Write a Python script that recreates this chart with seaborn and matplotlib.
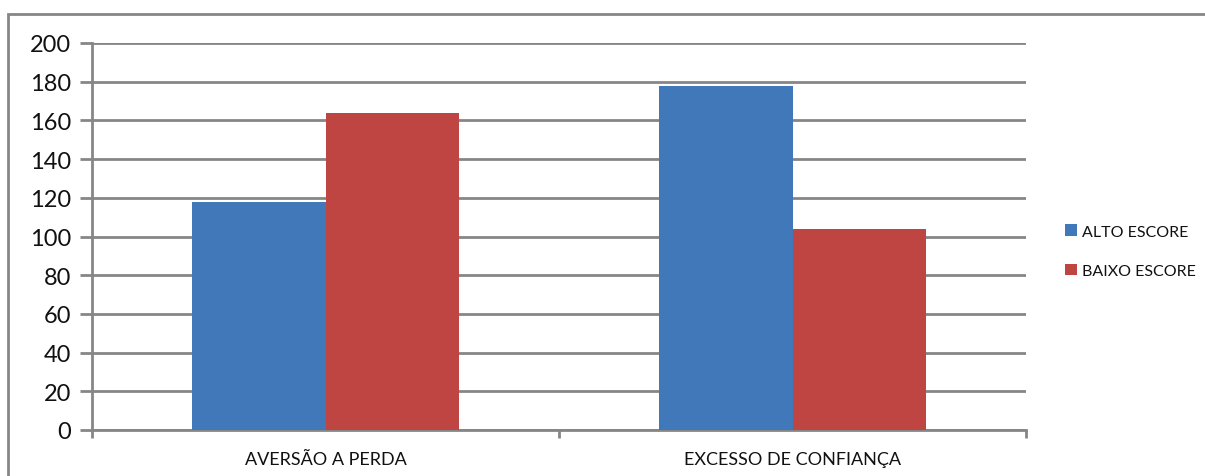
import matplotlib
matplotlib.use("Agg")
import matplotlib.pyplot as plt
from matplotlib.patches import Rectangle
import seaborn as sns
import pandas as pd

categories = ["AVERSÃO A PERDA", "EXCESSO DE CONFIANÇA"]
series_names = ["ALTO ESCORE", "BAIXO ESCORE"]
alto_escore = [118, 178]
baixo_escore = [164, 104]
y_ticks = [0, 20, 40, 60, 80, 100, 120, 140, 160, 180, 200]

colors = ["#4178BA", "#BF4542"]
grid_color = "#868686"

df = pd.DataFrame({
    "categoria": categories * 2,
    "serie": [series_names[0]] * 2 + [series_names[1]] * 2,
    "valor": alto_escore + baixo_escore,
})

sns.set_theme(style="white")
plt.rcParams["font.family"] = ["Lato", "DejaVu Sans"]

W, H = 1205, 477
fig = plt.figure(figsize=(W / 100, H / 100), dpi=100)
ax = fig.add_axes([92 / W, 1 - 431 / H, (1026 - 92) / W, (431 - 44) / H])

sns.barplot(data=df, x="categoria", y="valor", hue="serie", order=categories,
            hue_order=series_names, palette=colors, width=0.57, gap=0,
            saturation=1, linewidth=0, ax=ax, legend=True, zorder=3)

ax.set_xlim(-0.5, 1.5)
ax.set_ylim(0, 200)
ax.set_yticks(y_ticks)
ax.set_yticklabels([str(v) for v in y_ticks], fontsize=17, color="#111111")
ax.set_xlabel("")
ax.set_ylabel("")

# horizontal gridlines behind the bars
ax.yaxis.grid(True, color=grid_color, linewidth=2, zorder=0)
ax.set_axisbelow(True)

for side in ("top", "right"):
    ax.spines[side].set_visible(False)
for side in ("left", "bottom"):
    ax.spines[side].set_color(grid_color)
    ax.spines[side].set_linewidth(2)

ax.tick_params(axis="y", which="major", length=9, width=2, color=grid_color,
               left=True, pad=6)

# category labels centred, tick marks on category boundaries
ax.set_xticks([0, 1])
ax.set_xticklabels(categories, fontsize=13, color="#111111")
ax.tick_params(axis="x", which="major", length=0, pad=15)
ax.set_xticks([-0.5, 0.5, 1.5], minor=True)
ax.tick_params(axis="x", which="minor", length=6, width=2, color=grid_color,
               bottom=True)

leg = ax.legend(loc="center left", bbox_to_anchor=(1.035, 0.462), frameon=False,
                fontsize=11.5, handlelength=0.75, handleheight=0.75,
                handletextpad=0.3, labelspacing=1.55, borderaxespad=0)
for t in leg.get_texts():
    t.set_color("#111111")

# outer chart border
fig.patches.append(Rectangle((8 / W, -0.1), 1.2, 1 - 15 / H + 0.1,
                             transform=fig.transFigure, fill=False,
                             edgecolor=grid_color, linewidth=2))

fig.savefig("out.png", dpi=100)
